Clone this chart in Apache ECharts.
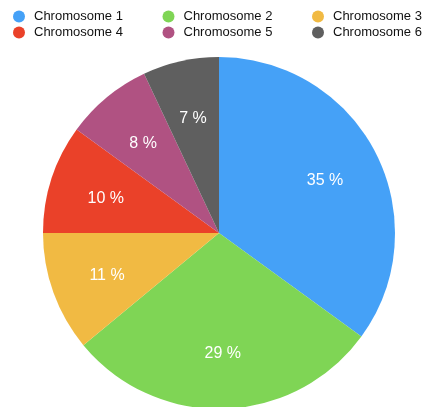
<!DOCTYPE html>
<html>
<head>
<meta charset="utf-8">
<script src="https://cdn.jsdelivr.net/npm/echarts@6/dist/echarts.min.js"></script>
<style>
  html, body { margin: 0; padding: 0; background: #fff; }
  #chart { width: 424px; height: 407px; }
</style>
</head>
<body>
<div id="chart"></div>
<script>
const names = ['Chromosome 1', 'Chromosome 2', 'Chromosome 3', 'Chromosome 4', 'Chromosome 5', 'Chromosome 6'];
const shares = [35, 29, 11, 10, 8, 7];
const colors = ['#45a1f7', '#7fd555', '#f1ba43', '#ea4129', '#b05282', '#5f5f5f'];

const font = '"Liberation Sans", Arial, sans-serif';
const data = names.map((n, i) => ({ name: n, value: shares[i] }));

// one legend per column, two rows each
const legendCols = [0, 1, 2].map(c => ({
    orient: 'vertical',
    left: 8 + c * 149.5,
    top: 5,
    width: 140,
    itemWidth: 20,
    itemHeight: 12,
    itemGap: 3,
    icon: 'circle',
    data: [names[c], names[c + 3]],
    textStyle: { fontFamily: font, fontSize: 13, color: '#111' }
}));

const chart = echarts.init(document.getElementById('chart'));
chart.setOption({
    color: colors,
    animation: false,
    legend: legendCols,
    series: [
        {
            type: 'pie',
            center: [219, 233],
            radius: 176,
            startAngle: 90,
            clockwise: true,
            label: { show: false },
            labelLine: { show: false },
            emphasis: { disabled: true },
            data: data
        },
        {
            // transparent ring, only used to place the percent labels
            type: 'pie',
            center: [219, 235],
            radius: [56, 176],
            startAngle: 90,
            clockwise: true,
            silent: true,
            itemStyle: { color: 'rgba(0,0,0,0)' },
            label: {
                show: true,
                position: 'inside',
                formatter: p => p.value + ' %',
                color: '#fff',
                fontFamily: font,
                fontSize: 16
            },
            labelLine: { show: false },
            data: data
        }
    ]
});
</script>
</body>
</html>
